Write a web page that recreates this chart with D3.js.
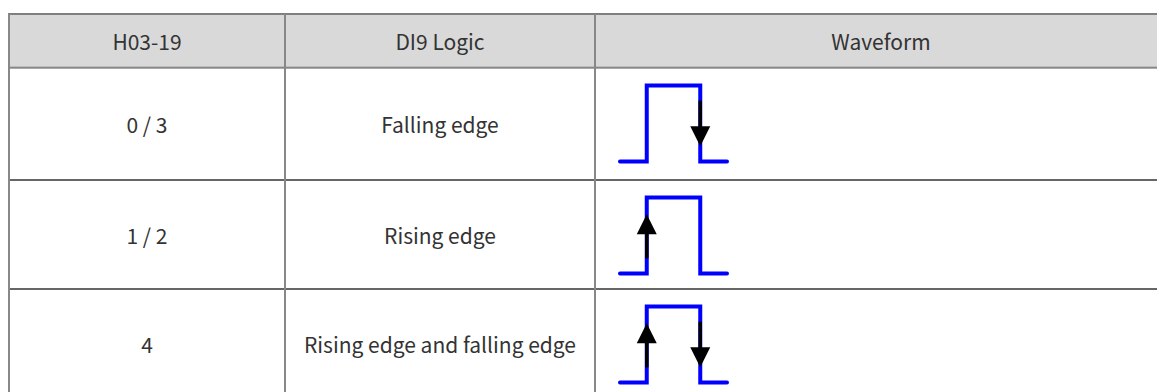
<!DOCTYPE html>
<html><head><meta charset="utf-8">
<script src="https://cdn.jsdelivr.net/npm/d3@7"></script>
<style>html,body{margin:0;padding:0;background:#fff;overflow:hidden}</style>
</head><body>
<svg id="c" width="1157" height="392"></svg>
<script>
const headers = ["H03-19", "DI9 Logic", "Waveform"];
const codes = ["0 / 3", "1 / 2", "4"];
const logic = ["Falling edge", "Rising edge", "Rising edge and falling edge"];
// waveform: pulse times (units) and levels
const waveT = [0, 1, 1, 3, 3, 4];
const waveL = [0, 0, 1, 1, 0, 0];
// which edges get an arrow per row
const edges = [["fall"], ["rise"], ["rise", "fall"]];

const svg = d3.select("#c");
const font = "'Noto Sans CJK SC','Noto Sans',sans-serif";
const fs = 21;
const colX = d3.scaleOrdinal().domain([0,1,2,3]).range([9, 285, 595, 1167]);
const rowY = d3.scaleOrdinal().domain([0,1,2,3,4]).range([14, 68, 180, 289, 398]);

svg.append("rect").attr("x", colX(0)).attr("y", rowY(0)).attr("width", colX(3)-colX(0)).attr("height", rowY(1)-rowY(0)).attr("fill", "#d9d9d9");

headers.forEach((h, i) => {
  svg.append("text").attr("x", (colX(i)+colX(i+1))/2).attr("y", (rowY(0)+rowY(1))/2)
    .attr("text-anchor", "middle").attr("dominant-baseline", "central")
    .attr("font-family", font).attr("font-size", fs).attr("fill", "#333").text(h);
});
codes.forEach((c, r) => {
  const cy = (rowY(r+1)+rowY(r+2))/2;
  svg.append("text").attr("x", (colX(0)+colX(1))/2).attr("y", cy)
    .attr("text-anchor", "middle").attr("dominant-baseline", "central")
    .attr("font-family", font).attr("font-size", fs).attr("fill", "#333").text(c);
  svg.append("text").attr("x", (colX(1)+colX(2))/2).attr("y", cy)
    .attr("text-anchor", "middle").attr("dominant-baseline", "central")
    .attr("font-family", font).attr("font-size", fs).attr("fill", "#333").text(logic[r]);
});

svg.append("line").attr("x1", colX(0)-1).attr("x2", colX(3)).attr("y1", rowY(0)).attr("y2", rowY(0)).attr("stroke", "#808080").attr("stroke-width", 2);
svg.append("line").attr("x1", colX(0)).attr("x2", colX(3)).attr("y1", rowY(1)-1).attr("y2", rowY(1)-1).attr("stroke", "#a0a0a0").attr("stroke-width", 1);
svg.append("line").attr("x1", colX(0)).attr("x2", colX(3)).attr("y1", rowY(1)).attr("y2", rowY(1)).attr("stroke", "#555").attr("stroke-width", 1.2);
[2,3].forEach(r => {
  svg.append("line").attr("x1", colX(0)).attr("x2", colX(3)).attr("y1", rowY(r)).attr("y2", rowY(r)).attr("stroke", "#333").attr("stroke-width", 1.5);
});
[0,1,2].forEach(c => {
  svg.append("line").attr("x1", colX(c)).attr("x2", colX(c)).attr("y1", rowY(0)).attr("y2", 392).attr("stroke", "#888").attr("stroke-width", 2);
});

const wx = d3.scaleLinear().domain([0, 4]).range([620, 727]);
const line = d3.line();
edges.forEach((eds, r) => {
  const top = rowY(r+1);
  const wy = d3.scaleLinear().domain([0, 1]).range([top + 93.5, top + 17.5]);
  const pts = waveT.map((t, i) => [wx(t), wy(waveL[i])]);
  svg.append("path").attr("d", line(pts)).attr("fill", "none").attr("stroke", "#0000ff")
    .attr("stroke-width", 4).attr("stroke-linejoin", "miter").attr("stroke-linecap", "round");
  eds.forEach(e => {
    const x = wx(e === "rise" ? 1 : 3);
    const from = e === "rise" ? 0.2 : 0.8;
    const to = e === "rise" ? 0.78 : 0.2;
    const y0 = wy(from), y1 = wy(to);
    const dir = Math.sign(y1 - y0);
    const headLen = 20, headW = 10;
    svg.append("line").attr("x1", x).attr("x2", x).attr("y1", y0).attr("y2", y1 - dir*headLen + dir*2)
      .attr("stroke", "#000").attr("stroke-width", 3.5);
    svg.append("path").attr("d", line([[x, y1], [x-headW, y1 - dir*headLen], [x+headW, y1 - dir*headLen]]) + "Z")
      .attr("fill", "#000");
  });
});
</script>
</body></html>
